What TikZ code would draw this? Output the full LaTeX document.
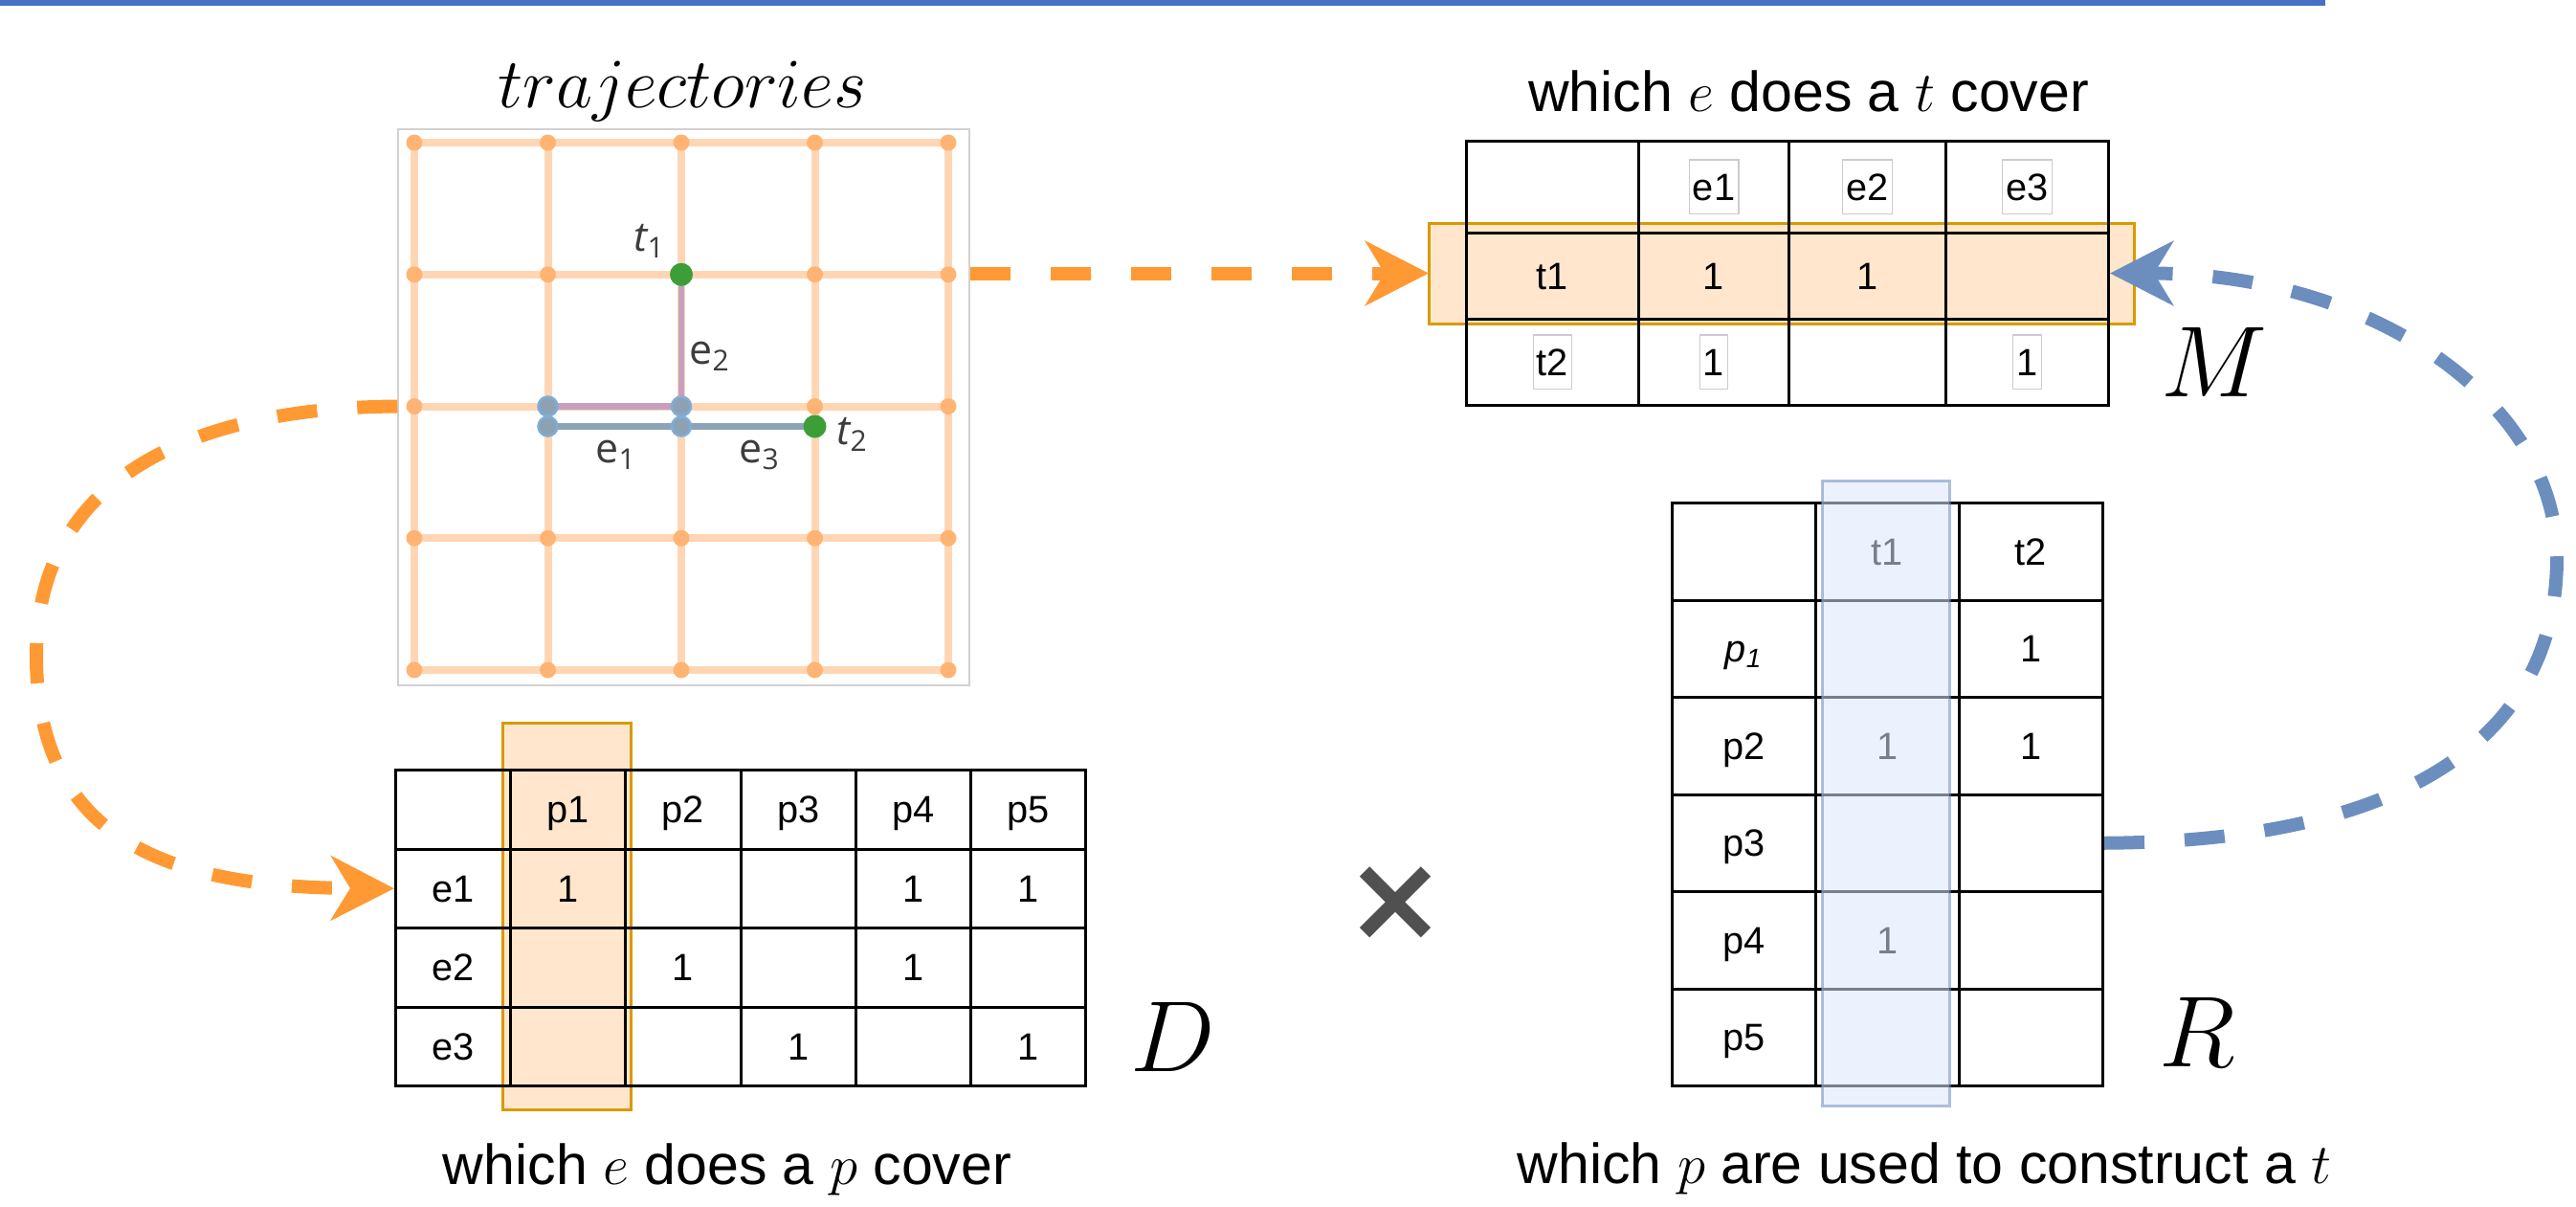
\RequirePackage{fix-cm}
\documentclass[tikz,border=0pt]{standalone}
\usepackage{fontspec}
\setmainfont{Liberation Sans}
\newfontfamily\labelfont{Open Sans}
\newfontfamily\symfont{DejaVu Sans}
\usepackage{xcolor}
\definecolor{barblue}{RGB}{68,114,196}
\definecolor{arrorange}{RGB}{255,153,51}
\definecolor{arrblue}{RGB}{108,142,191}
\definecolor{hlorange}{RGB}{255,230,204}
\definecolor{hlgold}{RGB}{215,155,0}
\definecolor{hlblue}{RGB}{218,232,252}
\definecolor{hlblueline}{RGB}{108,142,191}
\definecolor{gridline}{RGB}{255,214,180}
\definecolor{griddot}{RGB}{255,180,115}
\definecolor{pathpurple}{RGB}{200,160,190}
\definecolor{pathgray}{RGB}{138,164,181}
\definecolor{dotblue}{RGB}{128,172,218}
\definecolor{dotfill}{RGB}{140,162,178}
\definecolor{endgreen}{RGB}{60,158,55}
\definecolor{labelgray}{RGB}{60,60,60}
\definecolor{crossgray}{RGB}{80,80,80}
\usetikzlibrary{arrows.meta,matrix,positioning}

% small grey frame round a cell entry
\newcommand{\gbox}[1]{{\setlength{\fboxsep}{0.03cm}\setlength{\fboxrule}{0.4pt}%
  \fcolorbox{black!20}{white}{\rule[-0.10cm]{0pt}{0.49cm}#1}}}

\begin{document}
\begin{tikzpicture}[
  cell/.style={draw,line width=0.03cm,inner sep=0pt,text height=0.28cm,text depth=0cm,
               font=\fontsize{11.3}{13}\selectfont},
  tabmat/.style={matrix of nodes,nodes in empty cells,nodes={cell},column sep=-0.03cm,
                 row sep=-0.03cm,inner sep=0pt,outer sep=0pt,anchor=north west},
  hlorg/.style={draw=hlgold,fill=hlorange,line width=0.03cm,inner sep=0pt,outer sep=0pt},
  hlblu/.style={draw=hlblueline,fill=hlblue,line width=0.03cm,inner sep=0pt,outer sep=0pt,
                opacity=0.55},
  darr/.style={line width=0.14cm,dash pattern=on 0.42cm off 0.42cm,
               -{Stealth[length=0.66cm,width=0.67cm,inset=0.2cm]}},
  captext/.style={font=\fontsize{16.8}{20}\selectfont,anchor=base},
  matname/.style={font=\fontsize{30}{34}\selectfont,anchor=base},
  trajlabel/.style={font=\labelfont\fontsize{12.2}{14}\selectfont,text=labelgray},
  gridln/.style={draw=gridline,line width=0.08cm},
]
  \useasboundingbox (0,0) rectangle (26.92,-12.61);

  % title bar
  \fill[barblue] (0,0) rectangle (24.30,-0.06);

  % trajectories grid
  \node[font=\fontsize{21}{24}\selectfont,anchor=base] (trajtitle) at (7.13,-1.12) {$trajectories$};
  \node[draw=black!18,line width=0.015cm,minimum width=5.97cm,minimum height=5.81cm,inner sep=0pt]
    (traj) at (7.145,-4.255) {};
  \foreach \i in {0,...,4} {
    \draw[gridln] ({4.33+1.395*\i},-1.49) -- ({4.33+1.395*\i},-7.0);
    \draw[gridln] (4.33,{-1.49-1.3775*\i}) -- (9.91,{-1.49-1.3775*\i});
  }
  \foreach \i in {0,...,4}
    \foreach \j in {0,...,4} {
      \coordinate (g\i\j) at ({4.33+1.395*\i},{-1.49-1.3775*\j});
      \fill[griddot] (g\i\j) circle (0.085);
    }
  \coordinate (s1) at ([yshift=-0.21cm]g12);
  \coordinate (s2) at ([yshift=-0.21cm]g22);
  \coordinate (s3) at ([yshift=-0.21cm]g32);
  \draw[pathpurple,line width=0.065cm] (g12) -- (g22) -- (g21);
  \draw[pathgray,line width=0.075cm] (s1) -- (s3);
  \foreach \p in {g12,g22,s1,s2}
    \filldraw[draw=dotblue,fill=dotfill,line width=0.025cm] (\p) circle (0.1);
  \fill[endgreen] (g21) circle (0.12);
  \fill[endgreen] (s3) circle (0.12);
  \node[trajlabel] (t1lab) at (6.79,-2.52) {{\itshape t}\textsubscript{1}};
  \node[trajlabel] (e2lab) at (7.42,-3.72) {e\textsubscript{2}};
  \node[trajlabel] (e1lab) at (6.44,-4.75) {e\textsubscript{1}};
  \node[trajlabel] (e3lab) at (7.94,-4.75) {e\textsubscript{3}};
  \node[trajlabel] (t2lab) at (8.91,-4.54) {{\itshape t}\textsubscript{2}};

  % M: which e does a t cover
  \node[captext] (mcap) at (18.90,-1.16) {which $e$ does a $t$ cover};
  \node[hlorg,minimum width=7.37cm,minimum height=1.05cm] (mhl) at (18.615,-2.855) {};
  \matrix[tabmat,column 1/.style={nodes={minimum width=1.80cm}},
          column 2/.style={nodes={minimum width=1.57cm}},
          column 3/.style={nodes={minimum width=1.64cm}},
          column 4/.style={nodes={minimum width=1.70cm}},
          row 1/.style={nodes={minimum height=0.96cm}},
          row 2/.style={nodes={minimum height=0.90cm}},
          row 3/.style={nodes={minimum height=0.90cm}}] (mtab) at (15.31,-1.46) {
    {} & \gbox{e1} & \gbox{e2} & \gbox{e3} \\
    t1 & 1 & 1 & {} \\
    \gbox{t2} & \gbox{1} & {} & \gbox{1} \\
  };
  \node[matname] (mlab) at (23.14,-4.14) {$M$};

  % D: which e does a p cover
  \node[hlorg,minimum width=1.34cm,minimum height=4.04cm] (dhl) at (5.92,-9.57) {};
  \matrix[tabmat,nodes={minimum width=1.202cm,minimum height=0.825cm}] (dtab) at (4.12,-8.03) {
    {} & p1 & p2 & p3 & p4 & p5 \\
    e1 & 1 & {} & {} & 1 & 1 \\
    e2 & {} & 1 & {} & 1 & {} \\
    e3 & {} & {} & 1 & {} & 1 \\
  };
  \node[matname] (dlab) at (12.26,-11.19) {$D$};
  \node[captext] (dcap) at (7.60,-12.37) {which $e$ does a $p$ cover};

  \node[font=\symfont\bfseries\fontsize{36}{40}\selectfont,text=crossgray] (times) at (14.585,-9.445) {×};

  % R: which p are used to construct a t
  \matrix[tabmat,nodes={minimum width=1.50cm,minimum height=1.015cm}] (rtab) at (17.46,-5.24) {
    {} & t1 & t2 \\
    {\itshape p\textsubscript{1}} & {} & 1 \\
    p2 & 1 & 1 \\
    p3 & {} & {} \\
    p4 & 1 & {} \\
    p5 & {} & {} \\
  };
  \node[hlblu,minimum width=1.33cm,minimum height=6.53cm] (rhl) at (19.705,-8.285) {};
  \node[matname] (rlab) at (22.96,-11.14) {$R$};
  \node[captext] (rcap) at (20.11,-12.36) {which $p$ are used to construct a $t$};

  % flows
  \draw[darr,arrorange] (traj.east |- mhl.west) -- (mhl.west);
  \draw[darr,arrorange] (traj.west |- g02) .. controls (2.0,-4.26) and (0.38,-5.0) .. (0.38,-6.85)
    .. controls (0.38,-8.8) and (1.8,-9.27) .. (dtab.west |- dtab-2-1);
  \draw[darr,arrblue] (rtab.east |- rtab-4-1) .. controls (25.3,-8.79) and (26.72,-7.6) .. (26.72,-5.83)
    .. controls (26.72,-4.2) and (24.8,-2.855) .. (mtab.east |- mhl.east);
\end{tikzpicture}
\end{document}
